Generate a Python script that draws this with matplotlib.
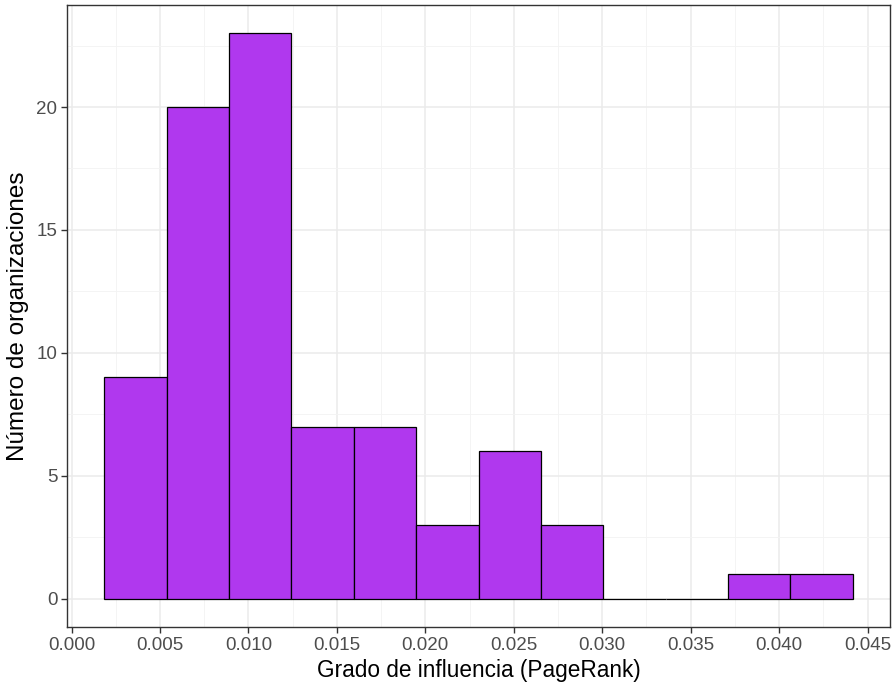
import numpy as np
import matplotlib
matplotlib.use("Agg")
import matplotlib.pyplot as plt
from matplotlib.ticker import MultipleLocator

# Histogram bins (12 equal bins)
BIN_START = 0.00186
BIN_END = 0.04415
COUNTS = [9, 20, 23, 7, 7, 3, 6, 3, 0, 0, 1, 1]

X_TICKS = [0.000, 0.005, 0.010, 0.015, 0.020, 0.025, 0.030, 0.035, 0.040, 0.045]
Y_TICKS = [0, 5, 10, 15, 20]

FILL = "#B038EE"

plt.rcParams["font.family"] = ["Liberation Sans", "DejaVu Sans"]

edges = np.linspace(BIN_START, BIN_END, len(COUNTS) + 1)
width = edges[1] - edges[0]

fig = plt.figure(figsize=(8.96, 6.9), dpi=100)
ax = fig.add_axes([0.0748, 0.0913, 0.9185, 0.9015])

ax.bar(edges[:-1], COUNTS, width=width, align="edge", color=FILL,
       edgecolor="black", linewidth=0.9, zorder=3)

# expand like ggplot (5%)
span = BIN_END - BIN_START
ax.set_xlim(BIN_START - 0.05 * span, BIN_END + 0.05 * span)
ymax = max(COUNTS)
ax.set_ylim(-0.05 * ymax, ymax * 1.05)

ax.set_xticks(X_TICKS)
ax.set_xticklabels([f"{v:.3f}" for v in X_TICKS])
ax.set_yticks(Y_TICKS)
ax.xaxis.set_minor_locator(MultipleLocator(0.0025))
ax.yaxis.set_minor_locator(MultipleLocator(2.5))

ax.grid(which="major", color="#EBEBEB", linewidth=1.1, zorder=0)
ax.grid(which="minor", color="#F3F3F3", linewidth=0.6, zorder=0)
ax.set_axisbelow(True)

for s in ax.spines.values():
    s.set_color("#333333")
    s.set_linewidth(1.0)

ax.tick_params(which="major", length=4, color="#333333", width=1.0,
               labelsize=13.5, labelcolor="#4D4D4D", pad=3)
ax.tick_params(which="minor", length=0)

ax.set_xlabel("Grado de influencia (PageRank)", fontsize=16.3, labelpad=4)
ax.set_ylabel("Número de organizaciones", fontsize=17.5, labelpad=5)

fig.savefig("out.png", dpi=100)
